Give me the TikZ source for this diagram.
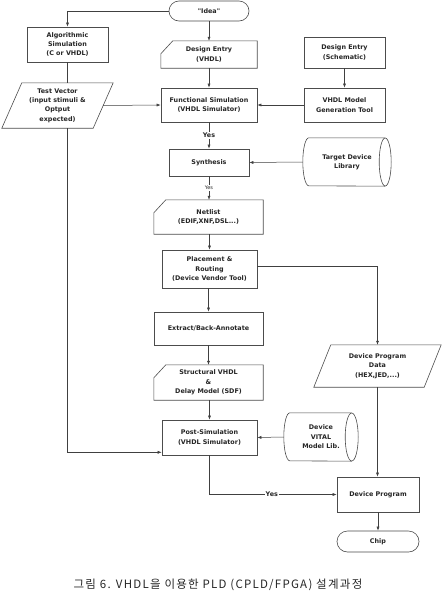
\documentclass[tikz,border=0pt]{standalone}
\usepackage{fontspec}
\usetikzlibrary{arrows.meta,calc}
\newfontfamily\dfont{DejaVu Sans}
\newfontfamily\kfont{Noto Sans CJK KR}[LetterSpace=11]
\begin{document}
\begin{tikzpicture}[x=1pt,y=-1pt,
  base/.style={font=\dfont\bfseries\fontsize{6.4}{9.4}\selectfont, align=center, inner sep=0pt, text=black!85},
  box/.style={base, draw=black!70, line width=0.6pt, rectangle},
  term/.style={box, rounded corners=10pt},
  ghost/.style={base},
  shp/.style={draw=black!70, line width=0.6pt},
  conn/.style={draw=black!75, line width=0.5pt},
  arr/.style={conn, -{Latex[length=4pt,width=3pt]}},
  yes/.style={base, fill=white, inner sep=1pt},
  yessmall/.style={yes, font=\dfont\fontsize{5}{6}\selectfont},
]
\useasboundingbox (0,0) rectangle (442,600);
\fill[white] (0,0) rectangle (442,600);

% nodes
\node[term, minimum width=80pt, minimum height=20pt] (idea) at (209,11) {"Idea"};
\node[ghost, minimum width=96pt, minimum height=27pt] (de) at (209,54.5) {Design Entry\\(VHDL)};
\node[box, minimum width=96pt, minimum height=34pt] (fs) at (209,105) {Functional Simulation\\(VHDL Simulator)};
\node[box, minimum width=80pt, minimum height=27pt] (syn) at (209,162.5) {Synthesis};
\node[ghost, minimum width=109pt, minimum height=34pt] (nl) at (208.5,217) {Netlist\\(EDIF,XNF,DSL...)};
\node[box, minimum width=95pt, minimum height=38pt] (pr) at (209.5,269) {Placement \&\\Routing\\(Device Vendor Tool)};
\node[box, minimum width=109pt, minimum height=33pt] (ex) at (208.5,328.5) {Extract/Back-Annotate};
\node[ghost, minimum width=109pt, minimum height=35pt] (sv) at (208.5,382.5) {Structural VHDL\\\&\\Delay Model (SDF)};
\node[box, minimum width=95pt, minimum height=35pt] (ps) at (209.5,437.5) {Post-Simulation\\(VHDL Simulator)};
\node[box, minimum width=82pt, minimum height=35pt] (dp) at (378,494.5) {Device Program};
\node[term, rounded corners=10.5pt, minimum width=82pt, minimum height=21pt] (chip) at (378,541.5) {Chip};

\node[box, minimum width=81pt, minimum height=35pt] (alg) at (67.5,44.5) {Algorithmic\\Simulation\\(C or VHDL)};
\node[ghost, minimum width=111pt, minimum height=45pt] (tv) at (57.5,105.5) {Test Vector\\(input stimuli \&\\Optput\\expected)};

\node[box, minimum width=81pt, minimum height=31pt] (des) at (344.5,52.5) {Design Entry\\(Schematic)};
\node[box, minimum width=81pt, minimum height=34pt] (vmg) at (344.5,105) {VHDL Model\\Generation Tool};
\node[ghost, minimum width=88pt, minimum height=48pt] (tdl) at (347,162) {Target Device\\Library};
\node[ghost, minimum width=127pt, minimum height=42pt] (dpd) at (377.5,366) {Device Program\\Data\\(HEX,JED,...)};
\node[ghost, minimum width=74pt, minimum height=48pt] (vit) at (321,437) {Device\\VITAL\\Model Lib.};

% special shapes
\foreach \n in {de,nl,sv}{
  \draw[shp] ($(\n.north west)+(12,0)$) -- (\n.north east) -- (\n.south east) -- (\n.south west) -- ($(\n.north west)+(0,13)$) -- cycle;
}
\draw[shp] ($(tv.north west)+(20,0)$) -- (tv.north east) -- ($(tv.south east)+(-20,0)$) -- (tv.south west) -- cycle;
\draw[shp] ($(dpd.north west)+(17,0)$) -- (dpd.north east) -- ($(dpd.south east)+(-17,0)$) -- (dpd.south west) -- cycle;
% cylinders
\draw[shp] ($(tdl.east)+(-6,0)$) ellipse [x radius=6, y radius=24];
\draw[shp] ($(tdl.north east)+(-6,0)$) -- ($(tdl.north west)+(6,0)$) arc[start angle=270, end angle=90, x radius=6, y radius=24] -- ($(tdl.south east)+(-6,0)$);
\draw[shp] ($(vit.east)+(-6.5,0)$) ellipse [x radius=6.5, y radius=24];
\draw[shp] ($(vit.north east)+(-6.5,0)$) -- ($(vit.north west)+(6,0)$) arc[start angle=270, end angle=90, x radius=6, y radius=24] -- ($(vit.south east)+(-6.5,0)$);

% connectors
\draw[arr] (idea.west) -| (alg.north);
\draw[arr] (idea.south) -- (de.north);
\draw[arr] (de.south) -- (fs.north);
\draw[arr] (des.south) -- (vmg.north);
\draw[arr] (vmg.west) -- (fs.east);
\draw[conn] (alg.south) -- (alg.south |- tv.north);
\draw[arr] ($(tv.east)+(-10,0)$) -- (fs.west);
\draw[arr] (alg.south |- tv.south) |- ($(ps.south west)+(0,-3)$);
\draw[arr] (fs.south) -- (syn.north) node[yes, midway] {Yes};
\draw[arr] (tdl.west) -- (syn.east);
\draw[arr] (syn.south) -- (syn.south |- nl.north) node[yessmall, midway] {Yes};
\draw[arr] (nl.south -| pr.north) -- (pr.north);
\draw[arr] (pr.south -| ex.north) -- (ex.north);
\draw[arr] (ex.south) -- (sv.north);
\draw[arr] (sv.south -| ps.north) -- (ps.north);
\draw[arr] (vit.west) -- (ps.east);
\draw[arr] ($(pr.east)+(0,-3)$) -| (dpd.north);
\draw[arr] (dpd.south) -- (dpd.south |- dp.north);
\draw[arr] (ps.south) |- (dp.west) node[yes, pos=0.745] {Yes};
\draw[arr] (dp.south) -- (chip.north);

% caption
\node[inner sep=0pt, text=black!85, font=\kfont\fontsize{11.5}{13}\selectfont] (cap) at (218,585) {그림 6. VHDL을 이용한 PLD (CPLD/FPGA) 설계과정};
\end{tikzpicture}
\end{document}
